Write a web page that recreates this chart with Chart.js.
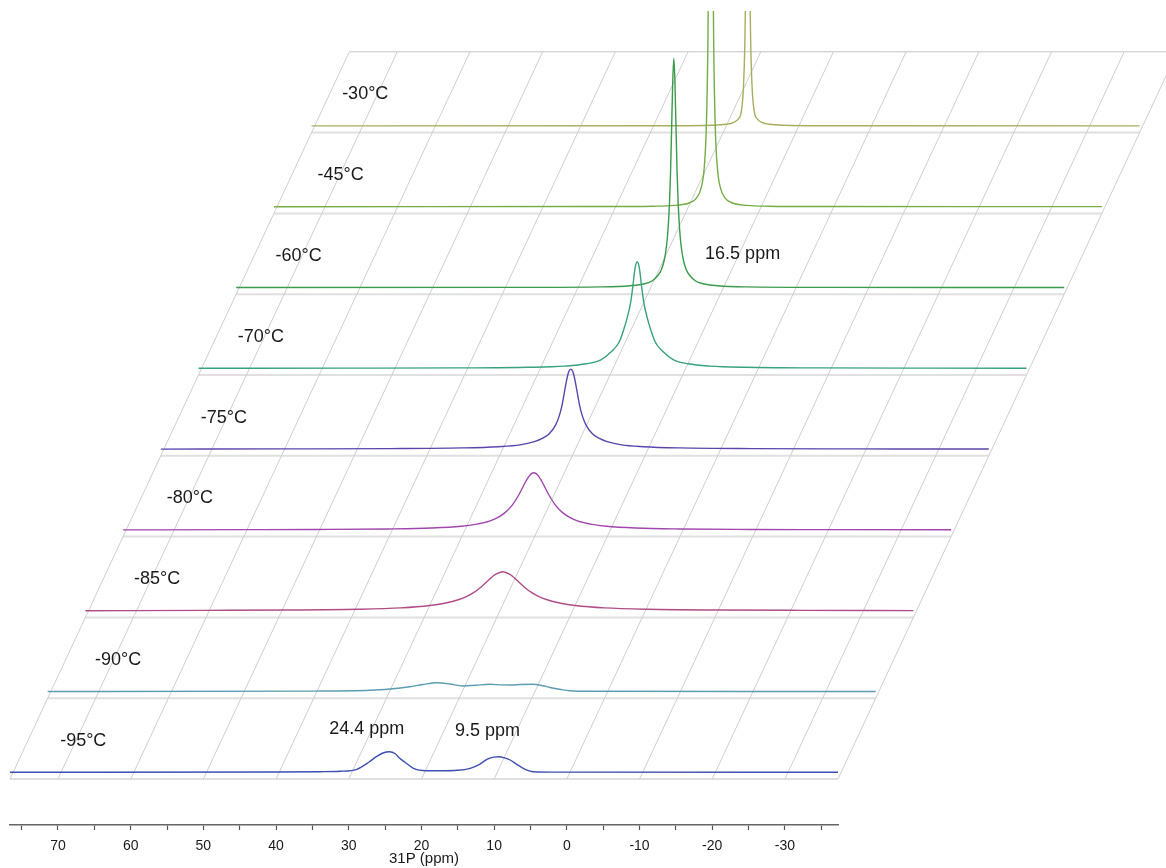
<!DOCTYPE html>
<html>
<head>
<meta charset="utf-8">
<script src="https://cdn.jsdelivr.net/npm/chart.js@4.4.1/dist/chart.umd.min.js"></script>
<style>
body{margin:0;background:#fff;}
</style>
</head>
<body>
<canvas id="chart" width="1166" height="868"></canvas>
<script>
// temperatures, bottom slice first
const temps = ['-95°C', '-90°C', '-85°C', '-80°C', '-75°C', '-70°C', '-60°C', '-45°C', '-30°C'];

// 31P spectra: [ppm, intensity]
const spec95 = [[76.6,0],[40,0.3],[34,0.6],[31.2,1.0],[28.9,3],[27.2,10.3],[26.2,15.6],[25.3,19.3],[24.4,20.6],[23.6,18.5],[23.0,14],[22.3,10.3],[21.1,4],[19.3,1.6],[17.5,1.5],[15,2],[13.3,4],[12,8],[11.0,13],[10.1,15.2],[9.3,15.6],[8.6,14.5],[7.8,12.3],[6.9,8],[6.0,4],[4.6,0.6],[2,0.2],[-37.3,0]];
const spec90 = [[76.6,0],[40,0.4],[32.3,1.2],[28.1,3.5],[26.8,4.8],[25,7],[23.1,8.8],[21.3,7.5],[19.5,5.5],[17.7,6.3],[15.8,7.2],[14.2,6.6],[13.0,6.5],[11.5,7],[9.9,7.2],[8.5,5.8],[7.5,4],[6,2],[4.8,0.8],[2,0.2],[-37.3,0]];
const spec85 = [[76.6,0],[60,0.35],[49.2,0.65],[39.2,1.4],[33.2,2.8],[29.2,5.2],[27.2,7.5],[25.2,11.2],[24.2,14],[23.2,18],[22.2,23.5],[21.2,30.2],[20.2,36.3],[19.2,39],[18.2,36.3],[17.2,30.2],[16.2,23.5],[15.2,18],[14.2,14],[13.2,11.2],[11.2,7.5],[9.2,5.2],[5.2,2.8],[-0.8,1.4],[-10.8,0.65],[-21.8,0.35],[-37.3,0.1]];
const spec80 = [[76.6,0],[60,0.25],[50.1,0.43],[40.1,0.95],[34.1,1.9],[30.1,3.6],[28.1,5.5],[26.1,9.0],[25.1,12.2],[24.1,17.0],[23.1,24.5],[22.1,35.9],[21.6,42.9],[21.1,49.8],[20.6,55.2],[20.1,57.2],[19.6,55.2],[19.1,49.8],[18.6,42.9],[18.1,35.9],[17.1,24.5],[16.1,17.0],[15.1,12.2],[14.1,9.0],[12.1,5.5],[10.1,3.6],[6.1,1.9],[0.1,0.95],[-9.9,0.43],[-20,0.25],[-37.3,0.1]];
const spec75 = [[76.6,0],[60.2,0.2],[45.2,0.5],[35.2,1.2],[30.2,2.4],[27.2,4.2],[25.2,7.5],[24.2,10.5],[23.2,15],[22.3,24],[21.8,33],[21.4,44],[21.1,56],[20.8,68],[20.5,77],[20.2,80],[19.9,77],[19.6,68],[19.3,56],[19.0,44],[18.6,33],[18.1,24],[17.2,15],[16.2,10.5],[15.2,7.5],[13.2,4.2],[10.2,2.4],[5.2,1.2],[-4.8,0.5],[-19.8,0.2],[-37.3,0.1]];
const spec70 = [[76.6,0],[56.25,0.15],[41.25,0.4],[31.25,1.0],[26.25,2.2],[23.25,4.5],[21.25,8.5],[19.75,17],[18.75,26],[18.05,40],[17.65,50],[17.15,66],[16.85,82],[16.55,100],[16.25,106.6],[15.95,100],[15.65,82],[15.35,66],[14.85,50],[14.45,40],[13.75,26],[12.75,17],[11.25,8.5],[9.25,4.5],[6.25,2.2],[1.25,1.0],[-8.75,0.4],[-23.75,0.15],[-37.3,0.1]];
const spec60 = [[76.6,0],[36.4,0.15],[26.4,0.6],[22.4,1.8],[20.4,3.8],[19.4,6.5],[18.6,12],[18.1,18],[17.7,28],[17.4,42],[17.2,58],[17.0,84],[16.85,115],[16.7,160],[16.55,206],[16.4,229],[16.25,206],[16.1,160],[15.95,115],[15.8,84],[15.6,58],[15.4,42],[15.1,28],[14.7,18],[14.2,12],[13.4,6.5],[12.4,3.8],[10.4,1.8],[6.4,0.6],[-3.6,0.15],[-37.3,0.05]];
const spec45 = [[76.6,0],[31.5,0.15],[24.5,0.5],[21.5,1.35],[19.5,3.7],[18.5,8.4],[17.8,19.5],[17.4,39.5],[17.1,83],[16.9,162],[16.8,245],[16.7,383],[16.6,580],[16.5,700],[16.4,580],[16.3,383],[16.2,245],[16.1,162],[15.9,83],[15.6,39.5],[15.2,19.5],[14.5,8.4],[13.5,3.7],[11.5,1.35],[8.5,0.5],[1.5,0.15],[-37.3,0.05]];
const spec30 = [[76.6,0],[26.6,0.15],[21.6,0.6],[19.6,1.6],[18.6,3.3],[17.9,7],[17.5,14],[17.2,38],[17.0,84],[16.9,132],[16.8,224],[16.7,382],[16.6,500],[16.5,382],[16.4,224],[16.3,132],[16.2,84],[16.0,38],[15.7,14],[15.3,7],[14.6,3.3],[13.6,1.6],[11.6,0.6],[6.6,0.15],[-37.3,0.05]];
const spectra = [spec95, spec90, spec85, spec80, spec75, spec70, spec60, spec45, spec30];

// ppm axis ticks (labels on every 10)
const tickVals = [75, 70, 65, 60, 55, 50, 45, 40, 35, 30, 25, 20, 15, 10, 5, 0, -5, -10, -15, -20, -25, -30, -35];

// peak notes
const notes = ['24.4 ppm', '9.5 ppm', '16.5 ppm'];
const noteSlice = [0, 0, 6];
const notePpm = [32.7, 15.4, 12.1];

const colors = ['#3d4fb0', '#5c9cb2', '#b04d86', '#a046ad', '#5b45ad', '#37a27c', '#3b9a4c', '#74ad45', '#a9ae5e'];

// stacking geometry
const X_MIN = -37.3, X_MAX = 76.6;
const SHIFT = 5.186;    // ppm shift per slice (the slant)
const STEP = 80.8;      // vertical step per slice
const BASE = 52.7;      // first baseline
const FLOOR = 46;       // first floor line
const tempX = [69.7, 70.1, 69.9, 70.6, 71.1, 71.2, 71.2, 70.6, 72.4]; // where the temperature text starts
const noteLift = [43, 41, 33.5];

const skewGrid = {
  id: 'skewGrid',
  beforeDatasetsDraw(chart) {
    const ctx = chart.ctx, x = chart.scales.x, y = chart.scales.y;
    ctx.save();
    for (let k = 0; k <= 9; k++) {
      const yy = y.getPixelForValue(FLOOR + k * STEP);
      ctx.beginPath();
      ctx.moveTo(x.getPixelForValue(X_MAX - k * SHIFT), yy);
      ctx.lineTo(x.getPixelForValue(X_MIN - k * SHIFT), yy);
      ctx.strokeStyle = k == 9 ? '#c4c4c4' : '#e0e0e0';
      ctx.lineWidth = k == 9 ? 1 : 2;
      ctx.stroke();
    }
    const slants = [X_MAX].concat(tickVals.filter(v => v % 10 === 0), [X_MIN]);
    ctx.strokeStyle = '#cecece';
    ctx.lineWidth = 1;
    slants.forEach(v => {
      ctx.beginPath();
      ctx.moveTo(x.getPixelForValue(v), y.getPixelForValue(FLOOR));
      ctx.lineTo(x.getPixelForValue(v - 9 * SHIFT), y.getPixelForValue(FLOOR + 9 * STEP));
      ctx.stroke();
    });
    ctx.restore();
  },
  afterDatasetsDraw(chart) {
    const ctx = chart.ctx, x = chart.scales.x, y = chart.scales.y;
    ctx.save();
    ctx.font = '18px "Liberation Sans", Arial, sans-serif';
    ctx.fillStyle = '#1a1a1a';
    ctx.textAlign = 'left';
    ctx.textBaseline = 'middle';
    temps.forEach((t, k) => {
      ctx.fillText(t, x.getPixelForValue(tempX[k] - k * SHIFT), y.getPixelForValue(BASE + k * STEP + 31.5));
    });
    notes.forEach((t, i) => {
      const k = noteSlice[i];
      ctx.fillText(t, x.getPixelForValue(notePpm[i] - k * SHIFT), y.getPixelForValue(BASE + k * STEP + noteLift[i]));
    });
    ctx.restore();
  }
};

const datasets = spectra.map((s, k) => ({
  label: temps[k],
  data: s.map(p => ({x: p[0] - k * SHIFT, y: BASE + k * STEP + p[1]})),
  borderColor: colors[k],
  borderWidth: 1.4,
  pointRadius: 0,
  showLine: true,
  fill: false,
  cubicInterpolationMode: 'monotone',
  clip: {left: false, right: false, top: 0, bottom: false}
}));

new Chart(document.getElementById('chart'), {
  type: 'scatter',
  data: {datasets: datasets},
  options: {
    responsive: false,
    animation: false,
    devicePixelRatio: 1,
    layout: {padding: {left: 10, right: 328, top: 11, bottom: 0}},
    plugins: {legend: {display: false}, tooltip: {enabled: false}},
    scales: {
      x: {
        type: 'linear',
        reverse: true,
        min: X_MIN,
        max: X_MAX,
        afterBuildTicks: scale => { scale.ticks = tickVals.map(v => ({value: v})); },
        afterFit: scale => { scale.height = 43; },
        grid: {display: true, drawOnChartArea: false, drawTicks: true, tickLength: 5, tickColor: '#555', tickWidth: 1.2},
        border: {display: true, color: '#666', width: 1.5},
        ticks: {
          autoSkip: false,
          maxRotation: 0,
          padding: 8,
          color: '#1a1a1a',
          font: {size: 14, family: '"Liberation Sans", Arial, sans-serif'},
          callback: v => (v % 10 === 0 ? String(v) : '')
        },
        title: {display: true, text: '31P (ppm)', color: '#1a1a1a', padding: {top: 0, bottom: 0},
          font: {size: 15, family: '"Liberation Sans", Arial, sans-serif'}}
      },
      y: {display: false, min: 0, max: 814}
    }
  },
  plugins: [skewGrid]
});
</script>
</body>
</html>
